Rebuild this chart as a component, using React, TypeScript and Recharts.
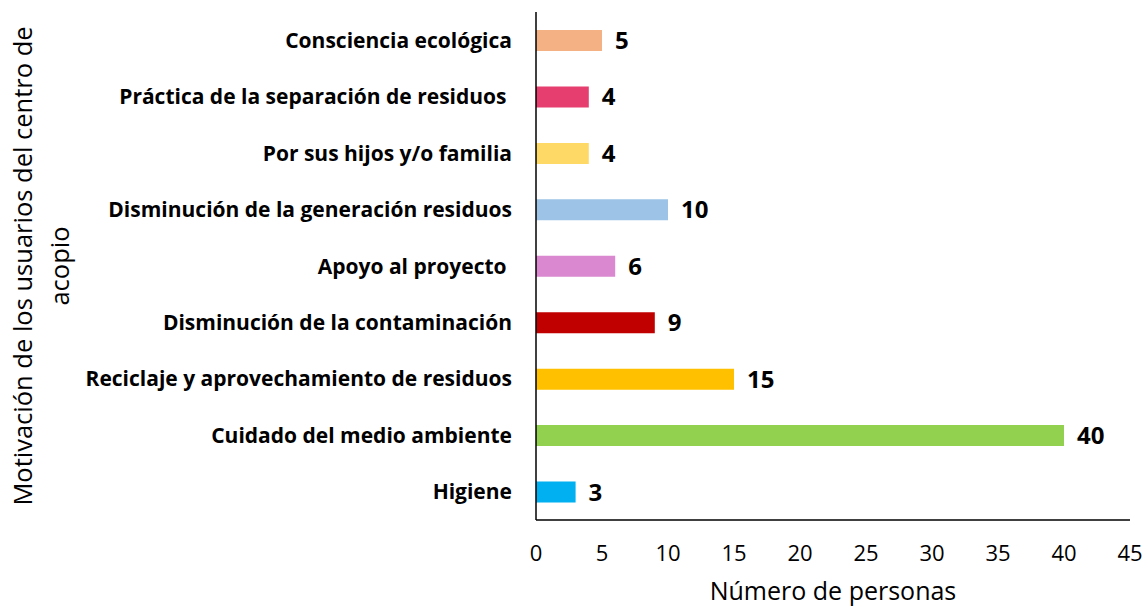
import { BarChart, Bar, XAxis, YAxis, Cell, LabelList, Label } from "recharts";

const categories = [
  "Consciencia ecológica",
  "Práctica de la separación de residuos ",
  "Por sus hijos y/o familia",
  "Disminución de la generación residuos",
  "Apoyo al proyecto ",
  "Disminución de la contaminación",
  "Reciclaje y aprovechamiento de residuos",
  "Cuidado del medio ambiente",
  "Higiene",
];
const personas = [5, 4, 4, 10, 6, 9, 15, 40, 3];
const barColors = ["#F4B183", "#E63F6F", "#FFD966", "#9DC3E6", "#DA88CF", "#C00000", "#FFC000", "#92D050", "#00B0F0"];
const xTicks = [0, 5, 10, 15, 20, 25, 30, 35, 40, 45];
const xTitle = "Número de personas";
const yTitle = ["Motivación de los usuarios del centro de", "acopio"];

const FONT = "'Open Sans', sans-serif";

const data = categories.map((name, i) => ({ name, value: personas[i] }));

function CategoryTick({ x, y, payload }: any) {
  return (
    <text x={x - 16} y={y} dy="0.36em" textAnchor="end" fontFamily={FONT} fontSize={21} fontWeight={700} fill="#000" style={{ whiteSpace: "pre" }}>
      {payload.value}
    </text>
  );
}

function YTitle({ viewBox }: any) {
  const cy = viewBox.y + viewBox.height / 2;
  return (
    <g fontFamily={FONT} fontSize={25.5} fill="#000">
      <text x={32} y={cy} textAnchor="middle" transform={`rotate(-90, 32, ${cy})`}>{yTitle[0]}</text>
      <text x={69} y={cy} textAnchor="middle" transform={`rotate(-90, 69, ${cy})`}>{yTitle[1]}</text>
    </g>
  );
}

export default function App() {
  return (
    <div style={{ position: "absolute", left: 0, top: 0, background: "#fff" }}>
      <BarChart width={1145} height={609} data={data} layout="vertical" margin={{ top: 12, right: 15, bottom: 0, left: 0 }}>
        <XAxis
          type="number"
          domain={[0, 45]}
          ticks={xTicks}
          interval={0}
          axisLine={{ stroke: "#000", strokeWidth: 1.5 }}
          tickLine={false}
          tickMargin={19}
          tick={{ fontFamily: FONT, fontSize: 22, fill: "#000" }}
          height={89}
        >
          <Label value={xTitle} position="insideBottom" offset={9} style={{ fontFamily: FONT, fontSize: 25, fill: "#000" }} />
        </XAxis>
        <YAxis
          type="category"
          dataKey="name"
          width={536}
          axisLine={{ stroke: "#000", strokeWidth: 1.5 }}
          tickLine={false}
          tick={<CategoryTick />}
          interval={0}
        >
          <Label content={<YTitle />} />
        </YAxis>
        <Bar dataKey="value" barSize={21} isAnimationActive={false}>
          {data.map((_, i) => (
            <Cell key={i} fill={barColors[i]} />
          ))}
          <LabelList dataKey="value" position="right" offset={13} style={{ fontFamily: FONT, fontSize: 24, fontWeight: 700, fill: "#000" }} />
        </Bar>
      </BarChart>
    </div>
  );
}
